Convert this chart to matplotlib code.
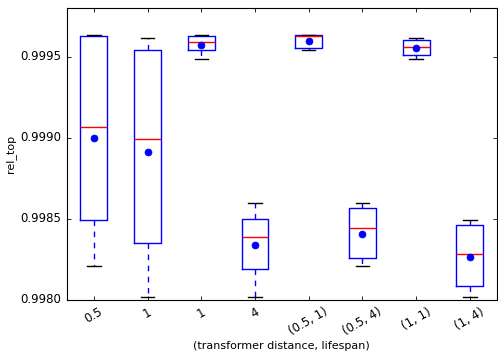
import matplotlib
matplotlib.use("Agg")
import matplotlib.pyplot as plt
from matplotlib.ticker import FormatStrFormatter

plt.style.use("classic")

# Box statistics
labels = ["0.5", "1", "1", "4", "(0.5, 1)", "(0.5, 4)", "(1, 1)", "(1, 4)"]
whishi = [0.999635, 0.999615, 0.999635, 0.998597, 0.999636, 0.998597, 0.999615, 0.998493]
q3 = [0.999630, 0.999544, 0.999630, 0.998499, 0.999632, 0.998569, 0.999601, 0.998460]
med = [0.999067, 0.998990, 0.999590, 0.998388, 0.999626, 0.998446, 0.999560, 0.998282]
means = [0.999000, 0.998910, 0.999570, 0.998339, 0.999595, 0.998409, 0.999556, 0.998268]
q1 = [0.998495, 0.998354, 0.999540, 0.998188, 0.999552, 0.998258, 0.999511, 0.998084]
whislo = [0.998210, 0.998017, 0.999485, 0.998017, 0.999544, 0.998209, 0.999485, 0.998017]

stats = []
for i in range(len(labels)):
    stats.append({
        "label": labels[i],
        "whishi": whishi[i],
        "q3": q3[i],
        "med": med[i],
        "mean": means[i],
        "q1": q1[i],
        "whislo": whislo[i],
        "fliers": [],
    })

fig = plt.figure(figsize=(4.98, 3.6), dpi=100, facecolor="white")
ax = fig.add_axes([0.1345, 0.1667, 0.863, 0.811])

lw = 1.0
ax.bxp(
    stats,
    showmeans=True,
    widths=0.5,
    boxprops=dict(color="b", linewidth=lw),
    whiskerprops=dict(color="b", linestyle=(0, (4, 4)), linewidth=lw),
    capprops=dict(color="k", linewidth=lw),
    medianprops=dict(color="r", linewidth=lw),
    meanprops=dict(marker="o", markerfacecolor="b", markeredgecolor="b",
                   markersize=5, linestyle="none"),
)

ax.set_ylim(0.998, 0.9998)
ax.set_xlim(0.5, len(labels) + 0.5)
ax.set_yticks([0.998, 0.9985, 0.999, 0.9995])
ax.yaxis.set_major_formatter(FormatStrFormatter("%.4f"))
ax.set_xticklabels(labels, rotation=30, fontsize=8.5)
ax.tick_params(axis="y", labelsize=8.5)
ax.tick_params(length=3, width=0.6)
for s in ax.spines.values():
    s.set_linewidth(0.8)
ax.set_ylabel("rel_top", fontsize=8, labelpad=3)
ax.set_xlabel("(transformer distance, lifespan)", fontsize=8, labelpad=2)

fig.savefig("out.png", dpi=100, facecolor="white")
